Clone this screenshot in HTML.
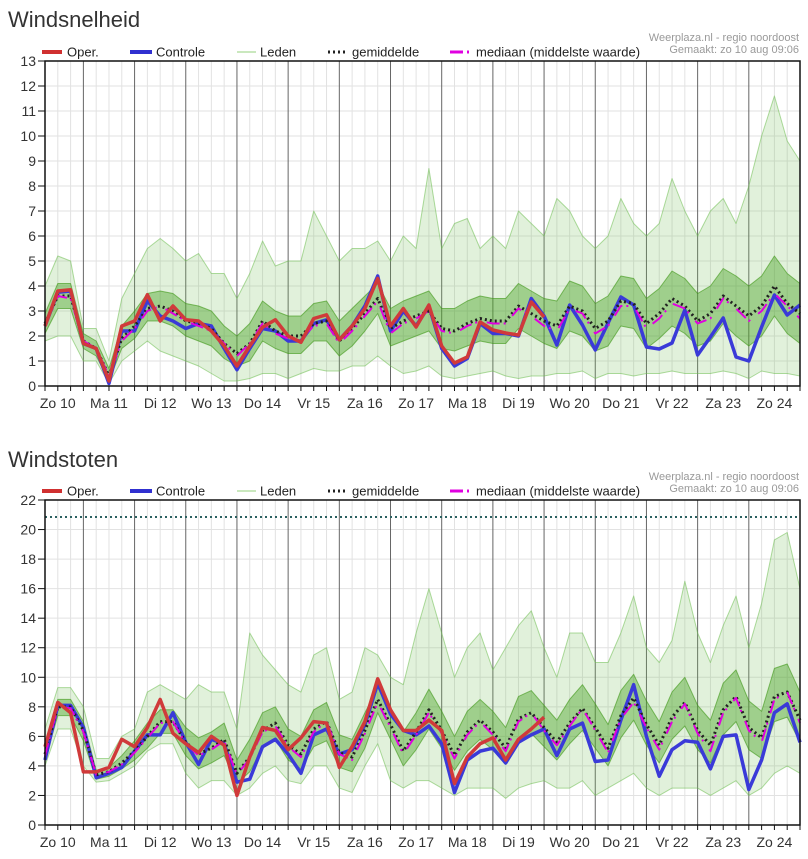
<!DOCTYPE html>
<html><head><meta charset="utf-8">
<style>
html,body{margin:0;padding:0;background:#fff;width:808px;height:859px;overflow:hidden}
svg{display:block;font-family:"Liberation Sans",sans-serif}
</style></head><body>
<svg id="svg" width="808" height="859" viewBox="0 0 808 859"></svg>
<script>
// ---- top chart data (Windsnelheid) ----
const dayLabels=["Zo 10","Ma 11","Di 12","Wo 13","Do 14","Vr 15","Za 16","Zo 17","Ma 18","Di 19","Wo 20","Do 21","Vr 22","Za 23","Zo 24"];
const topTicks=[0,1,2,3,4,5,6,7,8,9,10,11,12,13];
const topOper=[2.4,3.8,3.85,1.7,1.5,0.2,2.4,2.6,3.65,2.6,3.2,2.65,2.6,2.2,1.6,0.8,1.6,2.35,2.65,2.0,1.75,2.7,2.85,1.85,2.4,3.1,4.3,2.4,3.1,2.36,3.24,1.6,0.92,1.16,2.56,2.24,2.12,2.04,3.36,2.76];
const topCtrl=[2.4,3.75,3.8,1.7,1.5,0.1,2.2,2.2,3.4,2.8,2.6,2.3,2.5,2.4,1.5,0.65,1.5,2.3,2.2,1.8,1.8,2.5,2.65,1.85,2.4,3.2,4.4,2.2,3.0,2.4,3.2,1.5,0.8,1.1,2.5,2.1,2.1,2.0,3.5,2.8,1.64,3.24,2.44,1.44,2.52,3.56,3.24,1.56,1.48,1.72,3.04,1.24,1.96,2.72,1.16,1.0,2.36,3.64,2.84,3.24];
const topMean=[2.5,3.6,3.6,1.8,1.5,0.4,1.9,2.4,3.1,3.2,3.0,2.6,2.5,2.3,1.7,1.3,1.7,2.6,2.2,2.0,2.0,2.5,2.6,1.8,2.3,2.9,3.5,2.3,2.6,2.8,3.0,2.3,2.2,2.5,2.7,2.6,2.6,3.2,2.9,2.6,2.4,3.2,3.0,2.3,2.6,3.4,3.3,2.5,2.9,3.5,3.2,2.6,2.9,3.6,3.2,2.8,3.2,4.0,3.3,2.9];
const topMedian=[2.4,3.6,3.5,1.8,1.5,0.4,1.8,2.3,3.0,3.2,2.9,2.6,2.4,2.2,1.7,1.2,1.7,2.5,2.1,1.9,1.9,2.4,2.5,1.7,2.2,2.8,3.4,2.1,2.5,2.7,3.0,2.2,2.1,2.4,2.6,2.5,2.5,3.1,2.8,2.4,2.2,3.1,2.9,2.1,2.4,3.2,3.2,2.3,2.7,3.3,3.1,2.5,2.7,3.5,3.1,2.6,3.0,3.7,3.2,2.7];
const topHi=[4.0,5.2,5.0,2.3,2.3,1.0,3.5,4.5,5.5,5.9,5.5,5.0,5.3,4.5,4.5,3.5,4.5,5.8,4.8,5.0,5.0,7.0,6.0,5.0,5.5,5.5,5.8,5.0,6.0,5.5,8.7,5.5,6.5,6.7,5.5,6.0,5.5,7.0,6.5,6.0,7.5,7.0,6.0,5.5,6.0,7.5,6.5,6.0,6.5,8.3,7.0,6.0,7.0,7.5,6.5,8.0,10.0,11.6,9.8,9.0];
const topLo=[1.8,2.0,2.0,1.0,1.0,0.1,1.0,1.4,1.8,1.4,1.2,1.0,0.8,0.5,0.2,0.2,0.3,0.5,0.5,0.3,0.5,0.7,0.6,0.6,0.8,0.8,1.2,0.8,0.5,0.6,0.8,0.4,0.3,0.4,0.5,0.6,0.4,0.3,0.4,0.4,0.5,0.5,0.6,0.3,0.5,0.5,0.4,0.5,0.5,0.6,0.5,0.5,0.5,0.6,0.5,0.3,0.6,0.5,0.5,0.4];
const topQ3=[2.9,4.1,4.1,2.1,1.8,0.7,2.4,3.0,3.7,3.8,3.7,3.3,3.2,3.0,2.4,2.0,2.5,3.4,3.0,2.8,2.8,3.3,3.4,2.6,3.1,3.6,4.1,3.1,3.4,3.6,3.8,3.1,3.1,3.4,3.6,3.5,3.5,4.1,3.8,3.5,3.4,4.2,4.0,3.3,3.6,4.4,4.3,3.5,3.9,4.6,4.3,3.7,4.0,4.7,4.4,4.0,4.4,5.2,4.5,4.1];
const topQ1=[2.1,3.1,3.1,1.5,1.2,0.2,1.5,1.9,2.6,2.6,2.4,2.0,1.8,1.6,1.1,0.8,1.0,1.8,1.5,1.3,1.3,1.8,1.8,1.2,1.6,2.2,2.9,1.6,1.8,2.0,2.2,1.5,1.4,1.6,1.8,1.7,1.7,2.3,2.0,1.7,1.5,2.2,2.0,1.4,1.6,2.4,2.3,1.5,1.9,2.4,2.1,1.6,1.8,2.5,2.0,1.6,2.0,2.8,2.1,1.7];
// ---- bottom chart data (Windstoten) ----
const botTicks=[0,2,4,6,8,10,12,14,16,18,20,22];
const botLimit=[20.85];
const botOper=[5.3,8.3,7.6,3.6,3.6,3.9,5.8,5.3,6.6,8.5,6.2,5.5,4.9,6.0,5.4,2.0,4.6,6.6,6.4,5.1,5.9,7.0,6.9,3.9,5.3,7.0,9.9,7.8,6.4,6.4,7.1,6.4,2.8,4.6,5.5,5.9,4.4,5.8,6.5,7.3];
const botCtrl=[4.4,8.1,8.1,6.6,3.2,3.5,3.9,5.0,6.1,6.1,7.6,5.6,4.1,5.8,5.5,2.9,3.1,5.3,5.8,4.8,3.5,6.1,6.5,4.8,5.1,6.8,9.6,7.5,6.4,6.1,6.7,5.5,2.2,4.4,5.0,5.2,4.2,5.6,6.1,6.5,4.7,6.5,6.9,4.3,4.4,7.1,9.5,6.0,3.3,5.1,5.7,5.6,3.8,6.0,6.1,2.4,4.4,7.6,8.2,5.6];
const botMean=[4.8,8.0,8.0,6.4,3.4,3.6,4.2,5.0,6.0,7.0,7.0,5.6,4.8,5.2,5.8,3.5,4.6,6.4,6.9,5.4,4.8,6.5,7.0,4.9,4.6,6.4,8.5,6.8,5.0,6.3,7.8,6.4,4.7,6.3,7.1,6.3,5.2,7.2,7.6,6.6,5.6,6.9,7.9,6.6,5.2,7.4,8.6,6.8,5.4,7.3,8.3,6.4,5.4,7.8,8.7,6.6,5.9,8.7,9.0,7.1];
const botMedian=[4.7,8.0,7.9,6.3,3.4,3.6,4.1,4.9,5.9,6.9,7.0,5.5,4.7,5.1,5.7,3.4,4.5,6.3,6.7,5.3,4.6,6.3,7.0,4.8,4.4,6.2,8.3,6.6,4.8,6.1,7.6,6.2,4.5,6.1,7.0,6.1,5.0,7.0,7.6,6.4,5.4,6.7,7.9,6.4,4.9,7.2,8.3,6.6,5.1,7.0,8.2,6.2,5.0,7.6,8.6,6.4,5.6,8.5,9.0,6.9];
const botHi=[6.5,9.3,9.3,8.0,4.5,4.5,6.0,6.5,9.0,9.5,9.0,8.5,9.5,9.0,9.0,6.5,13.0,11.5,10.5,9.5,9.0,11.5,12.0,8.5,9.0,12.0,11.5,10.0,9.5,13.0,16.0,13.0,10.0,12.0,13.0,10.5,12.0,13.5,14.5,12.0,10.0,13.0,13.0,11.0,11.0,13.0,15.5,12.0,11.0,12.5,16.5,13.0,11.0,13.5,15.5,12.0,15.0,19.3,19.8,16.0];
const botLo=[4.0,6.5,6.5,4.0,2.9,3.0,3.5,4.0,5.0,5.5,5.5,3.5,2.5,3.0,3.0,2.0,2.5,3.5,4.0,3.0,2.8,4.0,4.0,2.5,2.2,4.0,5.5,3.0,2.5,3.0,3.0,2.5,2.0,2.5,2.5,2.5,1.8,2.5,2.8,3.0,2.5,2.5,3.0,2.0,2.5,3.0,3.5,2.5,2.0,2.5,2.5,2.5,2.0,2.5,3.0,2.0,2.5,3.5,4.0,3.5];
const botQ3=[5.3,8.5,8.5,7.0,3.7,3.9,4.7,5.7,6.9,7.8,7.8,6.6,5.9,6.3,6.9,4.4,5.8,7.6,8.0,6.5,6.0,7.8,8.3,6.1,5.8,7.6,9.3,7.9,6.3,7.6,9.2,7.7,6.0,7.7,8.5,7.7,6.6,8.7,9.1,8.1,7.1,8.5,9.5,8.2,6.8,9.1,10.2,8.4,7.0,9.0,10.0,8.1,7.1,9.6,10.5,8.4,7.7,10.6,10.9,9.0];
const botQ1=[4.4,7.4,7.4,5.7,3.1,3.3,3.8,4.4,5.2,6.2,6.2,4.7,3.8,4.2,4.7,2.8,3.6,5.2,5.8,4.4,3.8,5.3,5.7,3.9,3.6,5.2,7.6,5.8,4.0,5.1,6.5,5.2,3.7,5.0,5.8,5.1,4.1,5.8,6.2,5.3,4.4,5.5,6.4,5.2,4.0,5.9,7.1,5.4,4.2,5.8,6.7,5.1,4.2,6.1,7.0,5.1,4.5,7.0,7.3,5.6];

const NS="http://www.w3.org/2000/svg";
const svg=document.getElementById('svg');
function mk(tag,attrs,parent){const e=document.createElementNS(NS,tag);for(const k in attrs)e.setAttribute(k,attrs[k]);(parent||svg).appendChild(e);return e;}
const X0=45,X1=800,NPTS=60;
function xs(i){return X0+i*(X1-X0)/(NPTS-1);}

function chart(o){
  const g=mk('g',{});
  
  
  const ys=v=>o.yBot-(v/o.max)*(o.yBot-o.yTop);
  // title
  const t=mk('text',{x:8,y:o.titleY,'font-size':22,fill:'#333'},g);t.textContent=o.title;
  
  // source text
  const s1=mk('text',{x:799,y:o.yTop-20,'font-size':11,fill:'#999','text-anchor':'end'},g);s1.textContent='Weerplaza.nl - regio noordoost';
  
  const s2=mk('text',{x:799,y:o.yTop-8,'font-size':11,fill:'#999','text-anchor':'end'},g);s2.textContent='Gemaakt: zo 10 aug 09:06';
  
  // legend
  const ly=o.yTop-9;
  const leg=mk('g',{},g);
  const items=[[42,62,67,'Oper.','#d03030',4,''],[130,152,156,'Controle','#3030d0',4,''],[237,256,260,'Leden','#b8e0a8',1.5,''],[328,346,352,'gemiddelde','#222',3,'2,3'],[450,470,476,'mediaan (middelste waarde)','#e000e0',3,'13,4,2,10']];
  items.forEach(it=>{
    const e=mk('g',{},leg);
    const l=mk('line',{x1:it[0],x2:it[1],y1:ly,y2:ly,stroke:it[4],'stroke-width':it[5]},e);
    if(it[6])l.setAttribute('stroke-dasharray',it[6]);
    const tx=mk('text',{x:it[2],y:ly+4.5,'font-size':13,fill:'#222'},e);tx.textContent=it[3];
  });
  // grid
  const grid=mk('g',{},g);
  o.ticks.forEach(v=>mk('line',{x1:X0,x2:X1,y1:ys(v),y2:ys(v),stroke:'#e2e2e2','stroke-width':1},grid));
  for(let i=0;i<NPTS;i++){if((i-3)%4!==0)mk('line',{x1:xs(i),x2:xs(i),y1:o.yTop,y2:o.yBot,stroke:'#e2e2e2','stroke-width':1},grid);}
  for(let i=3;i<NPTS;i+=4)mk('line',{x1:xs(i),x2:xs(i),y1:o.yTop,y2:o.yBot,stroke:'#666','stroke-width':1},grid);
  // bands
  const band=(hi,lo,fill,name)=>{let d='';hi.forEach((v,i)=>d+=(i?'L':'M')+xs(i)+','+ys(v));for(let i=lo.length-1;i>=0;i--)d+='L'+xs(i)+','+ys(lo[i]);d+='Z';
    const p=mk('path',{d:d,fill:fill,stroke:'none'},g);};
  band(o.hi,o.lo,'rgba(120,190,90,0.22)','members-range');
  band(o.q3,o.q1,'rgba(70,160,30,0.42)','members-core');
  const line=(arr,stroke,w,dash,name)=>{const d=arr.map((v,i)=>(i?'L':'M')+xs(i)+','+ys(v)).join('');
    const p=mk('path',{d:d,fill:'none',stroke:stroke,'stroke-width':w,'stroke-linejoin':'round'},g);if(dash)p.setAttribute('stroke-dasharray',dash);
    };
  line(o.hi,'rgba(110,190,80,0.55)',1,'','member-upper');
  line(o.lo,'rgba(110,190,80,0.55)',1,'','member-lower');
  line(o.q3,'rgba(60,150,20,0.6)',1,'','member-q3');
  line(o.q1,'rgba(60,150,20,0.6)',1,'','member-q1');
  if(o.limit){const ln=mk('line',{x1:X0,x2:X1,y1:ys(o.limit[0]),y2:ys(o.limit[0]),stroke:'#2a6060','stroke-width':2,'stroke-dasharray':'2,3'},g);}
  line(o.ctrl,'#3a3ad8',3.5,'','controle-line');
  line(o.mean,'#222',3,'2,3','gemiddelde-line');
  line(o.median,'#e000e0',2,'13,4,2,10','mediaan-line');
  line(o.oper,'#d03a3a',3.5,'','oper-line');
  // frame & axes
  mk('rect',{x:X0,y:o.yTop,width:X1-X0,height:o.yBot-o.yTop,fill:'none',stroke:'#111','stroke-width':1.5},g);
  const ya=mk('g',{},g);
  o.ticks.forEach(v=>{mk('line',{x1:38,x2:X0,y1:ys(v),y2:ys(v),stroke:'#111'},ya);
    const tx=mk('text',{x:36,y:ys(v)+5,'font-size':14,fill:'#333','text-anchor':'end'},ya);tx.textContent=v;});
  const xa=mk('g',{},g);
  for(let i=0;i<NPTS;i++)mk('line',{x1:xs(i),x2:xs(i),y1:o.yBot,y2:o.yBot+5,stroke:'#111'},xa);
  dayLabels.forEach((l,k)=>{const tx=mk('text',{x:xs(1+4*k),y:o.yBot+22,'font-size':14,fill:'#333','text-anchor':'middle'},xa);tx.textContent=l;});
}
chart({name:'windsnelheid-chart',title:'Windsnelheid',titleY:27,yTop:61,yBot:386,max:13,ticks:topTicks,oper:topOper,ctrl:topCtrl,mean:topMean,median:topMedian,hi:topHi,lo:topLo,q3:topQ3,q1:topQ1});
chart({name:'windstoten-chart',title:'Windstoten',titleY:467,yTop:500,yBot:825,max:22,ticks:botTicks,limit:botLimit,oper:botOper,ctrl:botCtrl,mean:botMean,median:botMedian,hi:botHi,lo:botLo,q3:botQ3,q1:botQ1});
</script>
</body></html>
